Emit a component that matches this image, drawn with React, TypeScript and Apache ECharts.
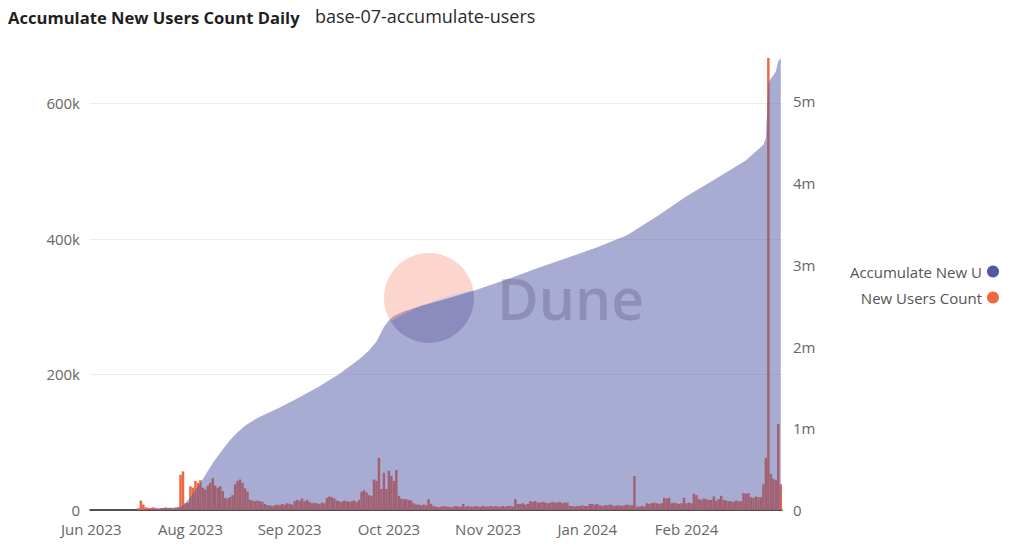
import React, { useEffect, useRef } from "react";
import * as echarts from "echarts";

// ---------- data ----------
const START_DATE_UTC = Date.UTC(2023, 5, 22); // first day of the series
const tickLabels = ["Jun 2023", "Aug 2023", "Sep 2023", "Oct 2023", "Nov 2023", "Jan 2024", "Feb 2024"];
const tickEvery = 40; // one x label every 40 days

// daily new users, thousands (left axis)
const newUsersK: number[] = [
  0, 0, 0, 0, 0, 0, 0, 0, 0, 0, 0, 0, 0, 0, 0, 0, 0, 0, 0,
  3, 14, 8, 4, 3, 3, 4, 3, 2, 3, 3, 4, 3, 3, 2, 3, 4,
  52, 57, 10, 11,
  35, 33, 43, 40, 44, 33, 30, 36, 40, 47, 36, 33, 35, 28, 18, 17, 19, 22, 38, 43, 45, 40, 32, 27,
  15, 14, 13, 14, 13, 12, 9, 7, 7, 6, 7, 8, 7, 9, 8, 10, 9, 8, 13, 15,
  14, 17, 13, 15, 12, 10, 11, 10, 9, 11, 10, 18, 20, 19, 17, 14, 13, 12, 14, 13,
  12, 13, 14, 12, 15,
  27, 29, 26, 22, 21, 45, 43, 77, 31, 55, 31, 58, 50, 43, 59,
  21, 17, 16, 16, 15, 14, 10, 8, 8, 7, 8, 7, 16, 9, 6,
  5, 4, 5, 6, 5, 5, 4, 5, 6, 5, 5,
  9,
  5, 6, 5, 5, 6, 5, 5, 6, 5, 5, 6, 5, 6, 5, 5, 6, 5, 6, 6, 5,
  16,
  9, 9, 10, 8, 9,
  13, 12, 13,
  11, 11, 12, 11, 10, 11, 12, 11, 11, 12, 10, 11, 11,
  6, 6, 5, 6, 6, 7, 6, 6,
  9, 9, 8, 9,
  7, 6, 7, 7, 8, 7, 6, 7, 7, 6, 7, 8, 7, 7,
  50,
  5, 5, 6, 5,
  10, 9, 10, 11, 10, 9, 10,
  18, 17, 18,
  10, 11, 10, 9, 10,
  18,
  10, 11, 10,
  24, 22,
  16, 15, 17, 16, 15,
  15, 20, 14, 16, 21, 15, 14,
  13, 13, 12, 14, 13, 13,
  25, 24, 25,
  19, 18, 20, 19, 19,
  38, 77, 667, 53, 46, 44, 127, 38,
];

// accumulated users, thousands (right axis), read at [day index, value]
const accumulateK: [number, number][] = [
  [0, 0], [19, 0], [22, 12], [28, 18], [36, 37], [38, 86], [40, 160], [44, 330],
  [49, 575], [53, 740], [56, 857], [59, 950], [62, 1030], [65, 1090], [68, 1140],
  [76, 1255], [84, 1380], [92, 1515], [100, 1665], [108, 1845], [112, 1950],
  [115, 2060], [118, 2240], [120, 2320], [122, 2375], [126, 2430], [132, 2490],
  [144, 2590], [156, 2700], [168, 2825], [180, 2960], [192, 3085], [204, 3215],
  [216, 3360], [228, 3590], [240, 3840], [252, 4055], [264, 4280], [271, 4470],
  [272, 4550], [273, 5220], [274, 5275], [275, 5320], [276, 5365], [277, 5490], [278, 5530],
];

const FONT = "'Open Sans', 'Noto Sans', sans-serif";

// Dune watermark logo parts (local coords, radius 45)
echarts.graphic.registerShape(
  "duneTop",
  echarts.graphic.extendPath("M -38.4 23.4 Q 2 0 44.3 -8 A 45 45 0 1 0 -38.4 23.4 Z", {})
);
echarts.graphic.registerShape(
  "duneBottom",
  echarts.graphic.extendPath("M -38.4 23.4 Q 2 0 44.3 -8 A 45 45 0 0 1 -38.4 23.4 Z", {})
);

export default function App() {
  const ref = useRef<HTMLDivElement>(null);

  useEffect(() => {
    if (!ref.current) return;
    const chart = echarts.init(ref.current, undefined, { renderer: "svg" });

    const dates = newUsersK.map((_, i) =>
      new Date(START_DATE_UTC + i * 86400000).toISOString().slice(0, 10)
    );
    const bars = newUsersK.map((v) => v * 1000);
    const accum = accumulateK.map(([i, v]) => [i, v * 1000]);

    const option: any = {
      animation: false,
      backgroundColor: "#ffffff",
      textStyle: { fontFamily: FONT },
      title: [
        {
          text: "Accumulate New Users Count Daily",
          left: 8,
          top: 9,
          padding: 0,
          textStyle: { fontFamily: FONT, fontSize: 16.6, fontWeight: "bold", color: "#1f1f1f" },
        },
        {
          text: "base-07-accumulate-users",
          left: 315,
          top: 7,
          padding: 0,
          textStyle: { fontFamily: FONT, fontSize: 18, fontWeight: "normal", color: "#2a2a2a" },
        },
      ],
      legend: {
        orient: "vertical",
        right: 20,
        top: 259,
        align: "right",
        icon: "circle",
        itemWidth: 12,
        itemHeight: 12,
        itemGap: 11,
        data: ["Accumulate New Users", "New Users Count"],
        textStyle: {
          fontFamily: FONT,
          fontSize: 15,
          color: "#555",
          width: 137,
          overflow: "truncate",
          ellipsis: "",
          align: "right",
        },
      },
      grid: { left: 90, right: 242, top: 58, bottom: 37, containLabel: false },
      xAxis: [
        {
          type: "category",
          data: dates,
          boundaryGap: true,
          axisLine: { show: true, lineStyle: { color: "#1a1a1a", width: 1.5 } },
          axisTick: { show: false },
          splitLine: { show: false },
          axisLabel: {
            interval: tickEvery - 1,
            color: "#666",
            fontSize: 15,
            margin: 11,
            formatter: (_v: string, idx: number) => tickLabels[Math.round(idx / tickEvery)] ?? "",
          },
        },
        { type: "value", min: -0.5, max: newUsersK.length - 0.5, show: false },
      ],
      yAxis: [
        {
          type: "value",
          position: "left",
          min: 0,
          max: "dataMax",
          interval: 200000,
          axisLine: { show: false },
          axisTick: { show: false },
          axisLabel: {
            color: "#666",
            fontSize: 15,
            lineHeight: 15,
            margin: 10,
            showMaxLabel: false,
            formatter: (v: number) => (v === 0 ? "0" : `${v / 1000}k`),
          },
          splitLine: { show: true, showMaxLine: false, lineStyle: { color: "#ececec" } },
        },
        {
          type: "value",
          position: "right",
          min: 0,
          max: "dataMax",
          interval: 1000000,
          axisLine: { show: false },
          axisTick: { show: false },
          axisLabel: {
            color: "#666",
            fontSize: 15,
            lineHeight: 15,
            margin: 11,
            showMaxLabel: false,
            formatter: (v: number) => (v === 0 ? "0" : `${v / 1000000}m`),
          },
          splitLine: { show: false },
        },
      ],
      series: [
        {
          name: "New Users Count",
          type: "bar",
          xAxisIndex: 0,
          yAxisIndex: 0,
          data: bars,
          barCategoryGap: "0%",
          itemStyle: { color: "#ef6840" },
          z: 2,
        },
        {
          name: "Accumulate New Users",
          type: "line",
          xAxisIndex: 1,
          yAxisIndex: 1,
          data: accum,
          showSymbol: false,
          symbol: "none",
          lineStyle: { width: 0 },
          itemStyle: { color: "#5357a6" },
          areaStyle: { color: "#5459a6", opacity: 0.5 },
          z: 3,
        },
      ],
      graphic: [
        {
          type: "duneTop",
          x: 429,
          y: 298,
          z: 100,
          silent: true,
          style: { fill: "rgba(244,96,62,0.26)" },
        },
        {
          type: "duneBottom",
          x: 429,
          y: 298,
          z: 100,
          silent: true,
          style: { fill: "rgba(30,24,112,0.21)" },
        },
        {
          type: "text",
          x: 497,
          y: 298,
          z: 100,
          silent: true,
          style: {
            text: "Dune",
            fontFamily: FONT,
            fontSize: 57,
            fontWeight: 600,
            fill: "rgba(40,40,90,0.22)",
            verticalAlign: "middle",
            align: "left",
          },
        },
      ],
    };

    chart.setOption(option);
    return () => chart.dispose();
  }, []);

  return (
    <div
      ref={ref}
      style={{ position: "fixed", left: 0, top: 0, width: 1024, height: 547, background: "#fff" }}
    />
  );
}
